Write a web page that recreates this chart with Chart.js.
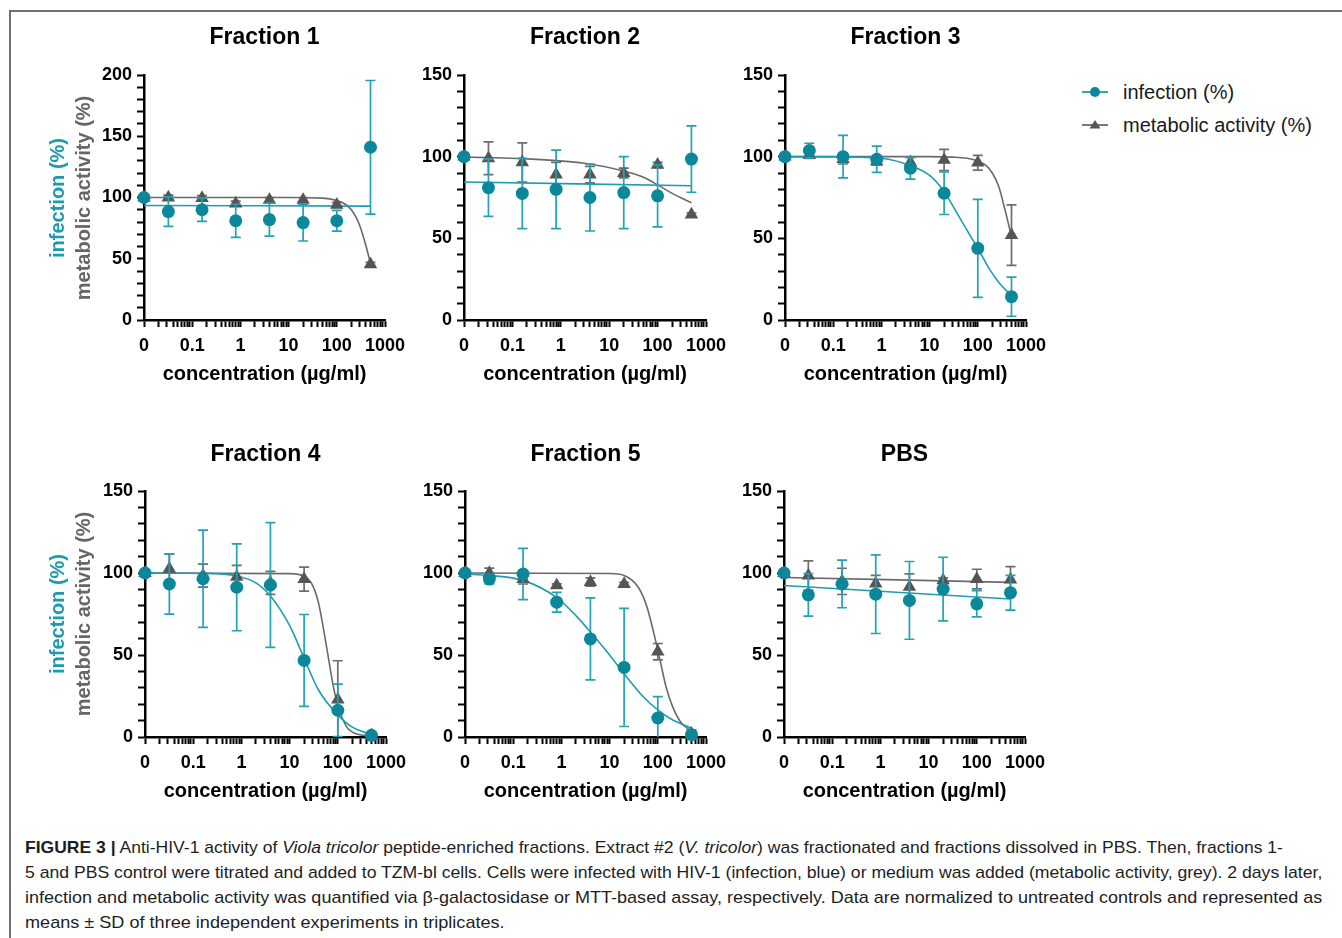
<!DOCTYPE html>
<html>
<head>
<meta charset="utf-8">
<script src="https://cdn.jsdelivr.net/npm/chart.js@4.4.1/dist/chart.umd.min.js"></script>
<style>
html,body{margin:0;padding:0;background:#fff;width:1342px;height:938px;overflow:hidden;font-family:"Liberation Sans",Arial,Helvetica,sans-serif;}
#frameTop{position:absolute;left:9px;top:10px;width:1333px;height:0;border-top:2px solid #707070;}
#frameLeft{position:absolute;left:9px;top:10px;width:0;height:928px;border-left:2px solid #707070;}
canvas{position:absolute;}
.ytitle{position:absolute;font-weight:bold;font-size:20px;line-height:24px;white-space:nowrap;transform:translate(-50%,-50%) rotate(-90deg);}
.legtext{position:absolute;font-size:20px;line-height:24px;color:#1a1a1a;white-space:nowrap;}
.legicon{position:absolute;}
.cap{position:absolute;left:25px;font-size:17px;line-height:25px;color:#1e1e1e;white-space:nowrap;transform-origin:0 50%;}
</style>
</head>
<body>
<div id="frameTop"></div>
<div id="frameLeft"></div>
<script>
// ---------------- data ----------------
const conc = [0, 0.032, 0.16, 0.8, 4, 20, 100, 500];       // µg/ml
const zeroAxisPosition = 0.01;                              // where "0" sits on the log axis
const xTickValues = [0.01, 0.1, 1, 10, 100, 1000];
const xTickLabels = ['0', '0.1', '1', '10', '100', '1000'];
const yMajorTicks = [0, 50, 100, 150, 200];
const panelTitles = ['Fraction 1', 'Fraction 2', 'Fraction 3', 'Fraction 4', 'Fraction 5', 'PBS'];
const panelYMax = [200, 150, 150, 150, 150, 150];
const legendLabels = ['infection (%)', 'metabolic activity (%)'];
const xTitle = 'concentration (µg/ml)';
const yTitleInfection = 'infection (%)';
const yTitleMetabolic = 'metabolic activity (%)';

// Fraction 1
const f1Infection   = [100, 88.5, 90, 81, 82, 79.5, 81, 141];
const f1InfectionSD = [0, 12, 9.5, 13.5, 13.5, 15, 8.5, 54.5];
const f1Metabolic   = [100, 100, 99.5, 95, 98, 98, 94, 45.5];
const f1MetabolicSD = [0, 2, 2, 2, 2, 2, 2, 1.5];
const f1InfFitX = [0, 500];
const f1InfFitY = [93.5, 93.0];
const f1MetFitX = [0, 10, 50, 100, 150, 200, 250, 300, 400, 500];
const f1MetFitY = [100, 100, 99.5, 97.5, 94.5, 90, 84, 77, 61, 46];

// Fraction 2
const f2Infection   = [100, 81, 77.5, 80, 75, 78, 76, 98.5];
const f2InfectionSD = [0, 17.5, 21.5, 24, 20.5, 22, 19, 20.3];
const f2Metabolic   = [100, 99, 96.5, 89, 89, 90, 95, 64.5];
const f2MetabolicSD = [0, 10, 12, 7.5, 5, 3, 1.5, 1];
const f2InfFitX = [0, 500];
const f2InfFitY = [84.5, 82.2];
const f2MetFitX = [0, 0.032, 0.16, 0.8, 4, 20, 50, 100, 200, 500];
const f2MetFitY = [99.7, 99.4, 98.8, 97.6, 95.5, 91.2, 87.5, 82.7, 77.5, 71.8];

// Fraction 3
const f3Infection   = [100, 103.7, 100, 98.4, 92.9, 77.6, 43.9, 14.3];
const f3InfectionSD = [0, 4.5, 13, 8, 6.7, 13, 30, 12];
const f3Metabolic   = [100, 101, 98.5, 97, 96.5, 98, 96.3, 52];
const f3MetabolicSD = [0, 2, 3, 2, 3, 6.5, 4.5, 18.5];
const f3InfFitX = [0, 0.16, 1, 4, 10, 20, 36, 70, 100, 180, 290, 500];
const f3InfFitY = [100, 99.9, 99, 94.5, 88.5, 78.6, 66, 51.5, 44, 30.5, 22, 15];
const f3MetFitX = [0, 10, 30, 60, 100, 150, 200, 270, 370, 500];
const f3MetFitY = [100, 100, 99.7, 99, 97.3, 94.5, 90, 82, 67, 51];

// Fraction 4
const f4Infection   = [100, 93.3, 96.5, 91.3, 92.7, 46.7, 16.3, 1];
const f4InfectionSD = [0, 18.4, 29.7, 26.5, 38, 28, 16, 1];
const f4Metabolic   = [100, 102.6, 98.4, 97.6, 94, 96.3, 22.8, 1];
const f4MetabolicSD = [0, 9, 7, 7, 7, 7.3, 23.7, 1];
const f4InfFitX = [0, 0.16, 0.8, 2, 4, 10, 20, 40, 100, 200, 500];
const f4InfFitY = [100, 99.8, 98.2, 94, 86, 68, 48, 28.5, 13.5, 6, 1.5];
const f4MetFitX = [0, 10, 20, 30, 40, 60, 80, 100, 150, 200, 500];
const f4MetFitY = [100, 99.6, 98, 92.5, 81.5, 53, 31.5, 19.5, 6.5, 3, 0.3];

// Fraction 5
const f5Infection   = [100, 96.3, 99.4, 82.2, 59.8, 42.4, 11.6, 1.4];
const f5InfectionSD = [0, 3, 15.6, 6, 25, 36, 13, 3];
const f5Metabolic   = [100, 100, 96.3, 92.4, 94.5, 93.3, 52, 2];
const f5MetabolicSD = [0, 3, 3, 1, 2.5, 1, 5, 1];
const f5InfFitX = [0, 0.032, 0.16, 0.8, 2, 4, 10, 20, 50, 100, 200, 500];
const f5InfFitY = [99.3, 98.5, 95.5, 85, 74, 64, 50, 38.5, 24.5, 16.5, 10.5, 5.5];
const f5MetFitX = [0, 10, 20, 40, 60, 100, 150, 200, 300, 500];
const f5MetFitY = [100, 99.7, 98.5, 91, 79, 53, 30, 19, 9, 3.5];

// PBS
const f6Infection   = [100, 86.7, 93.3, 87.1, 83.3, 90.2, 81.2, 88];
const f6InfectionSD = [0, 13, 14.5, 24, 23.7, 19.4, 8, 10.6];
const f6Metabolic   = [100, 98.4, 94.9, 93.5, 91.5, 95.5, 96.3, 95.9];
const f6MetabolicSD = [0, 9, 8, 5, 8, 1.5, 6, 8];
const f6InfFitX = [0, 500];
const f6InfFitY = [92.4, 84.1];
const f6MetFitX = [0, 500];
const f6MetFitY = [97.3, 94.3];

const panels = [
  {inf:f1Infection, infSD:f1InfectionSD, met:f1Metabolic, metSD:f1MetabolicSD, infFitX:f1InfFitX, infFitY:f1InfFitY, metFitX:f1MetFitX, metFitY:f1MetFitY},
  {inf:f2Infection, infSD:f2InfectionSD, met:f2Metabolic, metSD:f2MetabolicSD, infFitX:f2InfFitX, infFitY:f2InfFitY, metFitX:f2MetFitX, metFitY:f2MetFitY},
  {inf:f3Infection, infSD:f3InfectionSD, met:f3Metabolic, metSD:f3MetabolicSD, infFitX:f3InfFitX, infFitY:f3InfFitY, metFitX:f3MetFitX, metFitY:f3MetFitY},
  {inf:f4Infection, infSD:f4InfectionSD, met:f4Metabolic, metSD:f4MetabolicSD, infFitX:f4InfFitX, infFitY:f4InfFitY, metFitX:f4MetFitX, metFitY:f4MetFitY},
  {inf:f5Infection, infSD:f5InfectionSD, met:f5Metabolic, metSD:f5MetabolicSD, infFitX:f5InfFitX, infFitY:f5InfFitY, metFitX:f5MetFitX, metFitY:f5MetFitY},
  {inf:f6Infection, infSD:f6InfectionSD, met:f6Metabolic, metSD:f6MetabolicSD, infFitX:f6InfFitX, infFitY:f6InfFitY, metFitX:f6MetFitX, metFitY:f6MetFitY}
];

// ---------------- styling / layout ----------------
const FONT = '"Liberation Sans", Arial, Helvetica, sans-serif';
const TEAL_PT = '#0b879b', TEAL_LINE = '#1c9db2', TEAL_ERR = '#22a2b6', TEAL_TEXT = '#1a9bb0';
const GREY_PT = '#555555', GREY_LINE = '#6a6a6a', GREY_ERR = '#6e6e6e', GREY_TEXT = '#666666';
const plotBoxes = [
  {L:144, T:75,  R:385,  B:320},
  {L:464, T:75,  R:706,  B:320},
  {L:785, T:75,  R:1026, B:320},
  {L:145, T:491, R:386,  B:737},
  {L:465, T:491, R:706,  B:737},
  {L:784, T:491, R:1025, B:737}
];
const PAD_TOP = 55, PAD_RIGHT = 32, PAD_BOTTOM = 4, YAXIS_W = 100, XAXIS_H = 66;

const plotX = c => (c === 0 ? zeroAxisPosition : c);
const toPoints = (xs, ys) => xs.map((c, i) => ({x: plotX(c), y: ys[i]}));

const errorBarPlugin = {
  id: 'errorBars',
  beforeDatasetDraw(chart, args) {
    const ds = chart.data.datasets[args.index];
    if (!ds.sd) return;
    const {ctx, chartArea, scales: {x, y}} = chart;
    ctx.save();
    ctx.beginPath();
    ctx.rect(chartArea.left - 12, chartArea.top - 20, chartArea.width + 24, chartArea.height + 20);
    ctx.clip();
    ctx.strokeStyle = ds.errColor;
    ctx.lineWidth = 1.7;
    ds.data.forEach((p, i) => {
      const s = ds.sd[i];
      if (!s) return;
      const px = x.getPixelForValue(p.x);
      const yt = y.getPixelForValue(p.y + s);
      const lo = p.y - s;
      const yb = y.getPixelForValue(Math.max(0, lo));
      ctx.beginPath();
      ctx.moveTo(px, yt); ctx.lineTo(px, yb);
      ctx.moveTo(px - 5, yt); ctx.lineTo(px + 5, yt);
      if (lo > 0) { ctx.moveTo(px - 5, yb); ctx.lineTo(px + 5, yb); }
      ctx.stroke();
    });
    ctx.restore();
  }
};

const panelTitlePlugin = {
  id: 'panelTitle',
  afterDraw(chart, args, opts) {
    const {ctx, chartArea} = chart;
    ctx.save();
    ctx.font = 'bold 23px ' + FONT;
    ctx.fillStyle = '#000';
    ctx.textAlign = 'center';
    ctx.textBaseline = 'middle';
    ctx.fillText(opts.text, (chartArea.left + chartArea.right) / 2, chartArea.top - opts.offset);
    ctx.restore();
  }
};

panels.forEach((p, k) => {
  const b = plotBoxes[k];
  const w = b.R - b.L + YAXIS_W + PAD_RIGHT;
  const h = b.B - b.T + PAD_TOP + XAXIS_H + PAD_BOTTOM;
  const cv = document.createElement('canvas');
  cv.width = w; cv.height = h;
  cv.style.left = (b.L - YAXIS_W) + 'px';
  cv.style.top = (b.T - PAD_TOP) + 'px';
  cv.style.width = w + 'px'; cv.style.height = h + 'px';
  document.body.appendChild(cv);

  new Chart(cv, {
    type: 'line',
    data: {
      datasets: [
        {label: 'metabolic fit', data: toPoints(p.metFitX, p.metFitY), borderColor: GREY_LINE, borderWidth: 1.6,
         pointRadius: 0, cubicInterpolationMode: 'monotone', order: 3, clip: false},
        {label: 'infection fit', data: toPoints(p.infFitX, p.infFitY), borderColor: TEAL_LINE, borderWidth: 1.6,
         pointRadius: 0, cubicInterpolationMode: 'monotone', order: 2, clip: false},
        {label: legendLabels[1], data: toPoints(conc, p.met), sd: p.metSD, errColor: GREY_ERR, showLine: false,
         pointStyle: 'triangle', pointRadius: 7.8, pointBackgroundColor: GREY_PT, pointBorderColor: GREY_PT,
         pointBorderWidth: 0, borderColor: GREY_PT, order: 1, clip: false},
        {label: legendLabels[0], data: toPoints(conc, p.inf), sd: p.infSD, errColor: TEAL_ERR, showLine: false,
         pointStyle: 'circle', pointRadius: 6.5, pointBackgroundColor: TEAL_PT, pointBorderColor: TEAL_PT,
         pointBorderWidth: 0, borderColor: TEAL_PT, order: 0, clip: false}
      ]
    },
    options: {
      responsive: false, animation: false, devicePixelRatio: 1, events: [],
      layout: {padding: {top: PAD_TOP, right: PAD_RIGHT, bottom: PAD_BOTTOM, left: 0}},
      plugins: {legend: {display: false}, tooltip: {enabled: false},
                panelTitle: {text: panelTitles[k], offset: k < 3 ? 37.5 : 36.5}},
      scales: {
        x: {
          type: 'logarithmic', position: 'bottom',
          min: xTickValues[0], max: xTickValues[xTickValues.length - 1],
          afterBuildTicks(scale) {
            scale.ticks = scale.ticks.filter(t => {
              const m = t.value / Math.pow(10, Math.floor(Math.log10(t.value) + 1e-9));
              return Math.abs(m - 1.5) > 1e-6;
            });
          },
          afterFit(scale) { scale.height = XAXIS_H; scale.paddingLeft = 0; scale.paddingRight = 0; },
          border: {display: true, color: '#000', width: 2.5},
          grid: {display: true, drawOnChartArea: false, drawTicks: true, tickLength: 7, tickWidth: 2, tickColor: '#000', color: '#000'},
          ticks: {
            autoSkip: false, maxRotation: 0, minRotation: 0, padding: 8, color: '#000',
            font: {family: FONT, size: 18, weight: 'bold'},
            callback: v => {
              const i = xTickValues.findIndex(t => Math.abs(t - v) / t < 1e-6);
              return i >= 0 ? xTickLabels[i] : '';
            }
          },
          title: {display: true, text: xTitle, color: '#000', padding: {top: 0, bottom: 0},
                  font: {family: FONT, size: 20, weight: 'bold'}}
        },
        y: {
          type: 'linear', position: 'left', min: 0, max: panelYMax[k],
          afterFit(scale) { scale.width = YAXIS_W; scale.paddingTop = 0; scale.paddingBottom = 0; },
          border: {display: true, color: '#000', width: 2.5},
          grid: {display: true, drawOnChartArea: false, drawTicks: true, tickLength: 7, tickWidth: 2, tickColor: '#000', color: '#000'},
          ticks: {
            stepSize: 10, autoSkip: false, padding: 5, color: '#000',
            font: {family: FONT, size: 18, weight: 'bold'},
            callback: v => (yMajorTicks.includes(v) ? String(v) : '')
          }
        }
      }
    },
    plugins: [errorBarPlugin, panelTitlePlugin]
  });
});

// ---------------- y-axis titles (left column) ----------------
[0, 3].forEach(k => {
  const b = plotBoxes[k];
  const cy = (b.T + b.B) / 2;
  const a = document.createElement('div');
  a.className = 'ytitle'; a.style.left = '57px'; a.style.top = cy + 'px'; a.style.color = TEAL_TEXT;
  a.textContent = yTitleInfection;
  const m = document.createElement('div');
  m.className = 'ytitle'; m.style.left = '83px'; m.style.top = cy + 'px'; m.style.color = GREY_TEXT;
  m.textContent = yTitleMetabolic;
  document.body.appendChild(a); document.body.appendChild(m);
});

// ---------------- legend ----------------
const legendItems = [
  {text: legendLabels[0], line: TEAL_LINE, fill: TEAL_PT, shape: 'circle', cy: 92},
  {text: legendLabels[1], line: GREY_LINE, fill: GREY_PT, shape: 'triangle', cy: 125}
];
legendItems.forEach(it => {
  const ns = 'http://www.w3.org/2000/svg';
  const svg = document.createElementNS(ns, 'svg');
  svg.setAttribute('width', '30'); svg.setAttribute('height', '16');
  svg.setAttribute('class', 'legicon');
  svg.style.left = '1080px'; svg.style.top = (it.cy - 8) + 'px';
  const ln = document.createElementNS(ns, 'line');
  ln.setAttribute('x1', '2'); ln.setAttribute('x2', '28'); ln.setAttribute('y1', '8'); ln.setAttribute('y2', '8');
  ln.setAttribute('stroke', it.line); ln.setAttribute('stroke-width', '1.8');
  svg.appendChild(ln);
  let mk;
  if (it.shape === 'circle') {
    mk = document.createElementNS(ns, 'circle');
    mk.setAttribute('cx', '15'); mk.setAttribute('cy', '8'); mk.setAttribute('r', '5');
  } else {
    mk = document.createElementNS(ns, 'polygon');
    mk.setAttribute('points', '15,3 20.5,11.5 9.5,11.5');
  }
  mk.setAttribute('fill', it.fill);
  svg.appendChild(mk);
  document.body.appendChild(svg);
  const t = document.createElement('div');
  t.className = 'legtext'; t.style.left = '1123px'; t.style.top = (it.cy - 12) + 'px';
  t.textContent = it.text;
  document.body.appendChild(t);
});
</script>

<div class="cap" data-w="1258" style="top:835px"><b>FIGURE 3 |</b> Anti-HIV-1 activity of <i>Viola tricolor</i> peptide-enriched fractions. Extract #2 (<i>V. tricolor</i>) was fractionated and fractions dissolved in PBS. Then, fractions 1-</div>
<div class="cap" data-w="1297" style="top:860px">5 and PBS control were titrated and added to TZM-bl cells. Cells were infected with HIV-1 (infection, blue) or medium was added (metabolic activity, grey). 2 days later,</div>
<div class="cap" data-w="1297" style="top:885px">infection and metabolic activity was quantified via β-galactosidase or MTT-based assay, respectively. Data are normalized to untreated controls and represented as</div>
<div class="cap" data-w="480" style="top:910px">means ± SD of three independent experiments in triplicates.</div>
<script>
document.querySelectorAll('.cap').forEach(el => {
  const natural = el.scrollWidth;
  const target = parseFloat(el.dataset.w);
  if (natural > 0) el.style.transform = 'scaleX(' + (target / natural) + ')';
});
</script>
</body>
</html>
